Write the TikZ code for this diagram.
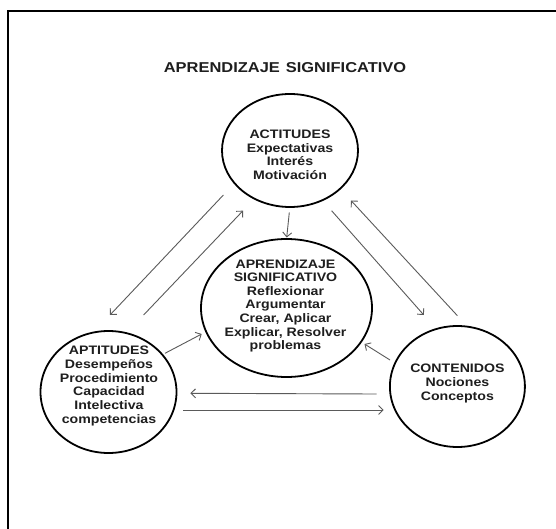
\documentclass[tikz,border=0pt]{standalone}
\usepackage{fontspec}
\setmainfont{Liberation Sans}[FakeStretch=1.15]
\usetikzlibrary{arrows.meta,shapes.geometric}
\definecolor{inkc}{HTML}{1E1E1E}
\definecolor{arrc}{HTML}{5A5A5A}
\tikzset{
  bubble/.style={ellipse, draw=black, line width=1.8pt, inner sep=0pt},
  txt/.style={align=center, text=inkc, font=\bfseries\fontsize{12.3pt}{13.65pt}\selectfont, inner sep=0pt},
  arr/.style={draw=arrc, line width=0.9pt, -{Straight Barb[length=4.5pt,width=9pt]}},
}
\begin{document}
\begin{tikzpicture}[x=1pt,y=-1pt]
\useasboundingbox (0,0) rectangle (556,529);
\fill[white] (0,0) rectangle (556,529);
% frame
\draw[line width=1.8pt] (8.3,531) -- (8.3,11.3) -- (558,11.3);
% title
\node[anchor=base, text=inkc, inner sep=0pt, font=\bfseries\fontsize{14.3pt}{16pt}\selectfont] (title) at (285,72.7) {APRENDIZAJE\hspace{6pt}SIGNIFICATIVO};
% bubbles
\node[bubble, minimum width=136pt, minimum height=113pt] (act) at (290,150.5) {};
\node[bubble, minimum width=171pt, minimum height=138pt] (cen) at (286.5,308) {};
\node[bubble, minimum width=136pt, minimum height=122pt] (apt) at (108.5,392) {};
\node[bubble, minimum width=135pt, minimum height=121pt] (con) at (457.4,386.5) {};
% texts
\node[txt] (acttxt) at (290,154.7) {ACTITUDES\\Expectativas\\Interés\\Motivación};
\node[txt] (centxt) at (285.5,306) {APRENDIZAJE\\SIGNIFICATIVO\\Reflexionar\\Argumentar\\Crear, Aplicar\\Explicar, Resolver\\problemas};
\node[txt] (apttxt) at (109,386) {APTITUDES\\Desempeños\\Procedimiento\\Capacidad\\Intelectiva\\competencias};
\node[txt] (contxt) at (457.4,383.5) {CONTENIDOS\\Nociones\\Conceptos};
% connector ends
\coordinate (a1s) at (223.4,195);   \coordinate (a1e) at (110,315);
\coordinate (a2s) at (143.6,315);   \coordinate (a2e) at (243,210.7);
\coordinate (a3s) at (289.3,212.5); \coordinate (a3e) at (286.7,237.5);
\coordinate (a4s) at (331.6,210.7); \coordinate (a4e) at (423.8,315);
\coordinate (a5s) at (457.4,315.7); \coordinate (a5e) at (351,200.5);
\coordinate (a6s) at (165,353.3);   \coordinate (a6e) at (201.7,334);
\coordinate (a7s) at (390,360);     \coordinate (a7e) at (364.5,344);
\coordinate (a8s) at (376.6,394);   \coordinate (a8e) at (190.4,393.3);
\coordinate (a9s) at (183.3,410);   \coordinate (a9e) at (383.7,410);
\draw[arr] (a1s) -- (a1e);
\draw[arr] (a2s) -- (a2e);
\draw[arr] (a3s) -- (a3e);
\draw[arr] (a4s) -- (a4e);
\draw[arr] (a5s) -- (a5e);
\draw[arr] (a6s) -- (a6e);
\draw[arr] (a7s) -- (a7e);
\draw[arr] (a8s) -- (a8e);
\draw[arr] (a9s) -- (a9e);
\end{tikzpicture}
\end{document}
